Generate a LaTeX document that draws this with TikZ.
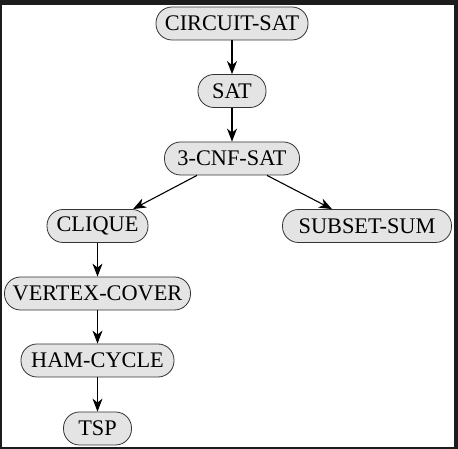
\documentclass[tikz,border=0pt]{standalone}
\usepackage{fontspec}
\setmainfont{Liberation Serif}
\usetikzlibrary{arrows.meta, calc}
\definecolor{frame}{HTML}{1C1C1C}
\definecolor{boxfill}{HTML}{E4E4E4}
\tikzset{prob/.style={draw=black!80, line width=0.8pt, fill=boxfill, rounded corners=16pt,
		minimum height=33pt, minimum width=#1, inner xsep=5pt,
		font=\fontsize{22.3}{26}\selectfont},
	prob/.default=68pt,
	red/.style={draw, line width=1.1pt, -{Stealth[length=13pt,width=10pt,inset=4pt]}},
}
\begin{document}
\begin{tikzpicture}[x=1pt,y=1pt]
		\path [use as bounding box] (0,0) rectangle (458,449);
		\fill[frame] (0,0) rectangle (458,449);
		\fill[white] (2,2) rectangle (454,444);
		% the reductions
		\node[prob=152pt] at (232,425.5) (csat) {CIRCUIT-SAT};
		\node[prob] at (232,358) (sat) {SAT};
		\node[prob=135pt] at (232,290.5) (cnf) {3-CNF-SAT};
		\node[prob=101pt] at (97.5,223) (clique) {CLIQUE};
		\node[prob=169pt] at (367,223) (subset) {SUBSET-SUM};
		\node[prob=186pt] at (97.5,155.5) (vc) {VERTEX-COVER};
		\node[prob=153pt] at (97.5,88.5) (ham) {HAM-CYCLE};
		\node[prob] at (97.5,20.5) (tsp) {TSP};
		\draw[red] (csat) -- (sat);
		\draw[red] (sat) -- (cnf);
		\draw[red] ($(cnf.south)+(-35,0)$) -- ($(clique.north)+(35.5,0)$);
		\draw[red] ($(cnf.south)+(35,0)$) -- ($(subset.north)+(-35,0)$);
		\draw[red] (clique) -- (vc);
		\draw[red] (vc) -- (ham);
		\draw[red] (ham) -- (tsp);
	\end{tikzpicture}
\end{document}
